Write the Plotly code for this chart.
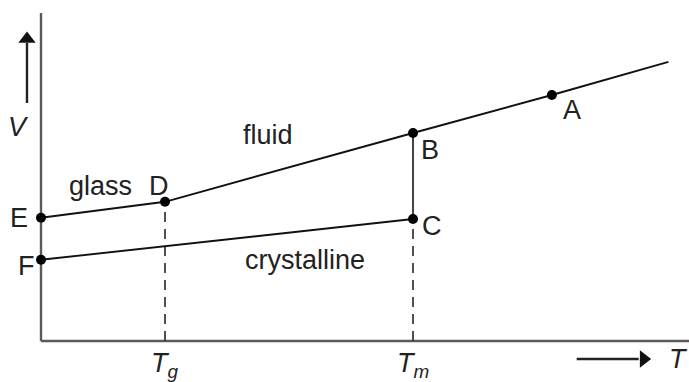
import plotly.graph_objects as go

# Temperature axis positions (arbitrary units) of the characteristic temperatures
T_g = 1.0
T_m = 3.0
T_A = 4.12
T_end = 5.06

# Specific volume (arbitrary units) at the labelled states
V_E = 3.08
V_D = 3.48
V_B = 5.2
V_C = 3.05
V_F = 2.03
V_A = 6.15
V_end = 6.98

point_names = ["A", "B", "C", "D", "E", "F"]
point_T = [T_A, T_m, T_m, T_g, 0.0, 0.0]
point_V = [V_A, V_B, V_C, V_D, V_E, V_F]

FONT = "Liberation Sans, Arial, sans-serif"
FS = 27
TXT = "#222222"
AXIS = "#5a5a5a"

fig = go.Figure()

# axes drawn as plain lines
fig.add_trace(go.Scatter(x=[0, 0], y=[0, 8.2], mode="lines",
                         line=dict(color=AXIS, width=2.4), hoverinfo="skip"))
fig.add_trace(go.Scatter(x=[0, 6], y=[0, 0], mode="lines",
                         line=dict(color=AXIS, width=2.4), hoverinfo="skip"))

# dashed guides from Tg and Tm down to the temperature axis
fig.add_trace(go.Scatter(x=[T_g, T_g], y=[0, V_D], mode="lines",
                         line=dict(color="#333333", width=1.7, dash="10px,7px"),
                         hoverinfo="skip"))
fig.add_trace(go.Scatter(x=[T_m, T_m], y=[0, V_C], mode="lines",
                         line=dict(color="#333333", width=1.7, dash="10px,7px"),
                         hoverinfo="skip"))

# glass branch E-D and fluid branch D-B-A
fig.add_trace(go.Scatter(x=[0, T_g, T_m, T_A, T_end],
                         y=[V_E, V_D, V_B, V_A, V_end], mode="lines",
                         line=dict(color="#111111", width=1.9), hoverinfo="skip"))
# crystallisation jump B-C
fig.add_trace(go.Scatter(x=[T_m, T_m], y=[V_B, V_C], mode="lines",
                         line=dict(color="#444444", width=2.0), hoverinfo="skip"))
# crystalline branch F-C
fig.add_trace(go.Scatter(x=[0, T_m], y=[V_F, V_C], mode="lines",
                         line=dict(color="#111111", width=1.9), hoverinfo="skip"))

# state points
fig.add_trace(go.Scatter(x=point_T, y=point_V, mode="markers",
                         marker=dict(color="black", size=10), hoverinfo="skip"))

# direction arrows beside the axis titles: shaft plus triangular head
fig.add_trace(go.Scatter(x=[-0.113, -0.113], y=[5.95, 7.45], mode="lines",
                         line=dict(color="#222222", width=2.4), hoverinfo="skip"))
fig.add_trace(go.Scatter(x=[-0.113], y=[7.55], mode="markers",
                         marker=dict(symbol="triangle-up", size=15, color="#111111",
                                     line=dict(width=0)),
                         hoverinfo="skip"))
fig.add_trace(go.Scatter(x=[4.32, 4.82], y=[-0.45, -0.45], mode="lines",
                         line=dict(color="#222222", width=2.4), hoverinfo="skip"))
fig.add_trace(go.Scatter(x=[4.86], y=[-0.45], mode="markers",
                         marker=dict(symbol="triangle-right", size=15, color="#111111",
                                     line=dict(width=0)),
                         hoverinfo="skip"))

annotations = []
shifts = {"A": (20, -15), "B": (17, -17), "C": (19, -7),
          "D": (-6, 16), "E": (-22, 0), "F": (-15, -6)}
for name, t, v in zip(point_names, point_T, point_V):
    dx, dy = shifts[name]
    annotations.append(dict(x=t, y=v, text=name, showarrow=False,
                            xshift=dx, yshift=dy,
                            font=dict(family=FONT, size=FS, color=TXT)))

for txt, t, v in [("glass", 0.476, 3.875), ("fluid", 1.83, 5.15),
                  ("crystalline", 2.13, 2.03)]:
    annotations.append(dict(x=t, y=v, text=txt, showarrow=False,
                            font=dict(family=FONT, size=FS, color=TXT)))

# temperature tick labels
for txt, t in [("<i>T</i><sub><i>g</i></sub>", T_g), ("<i>T</i><sub><i>m</i></sub>", T_m)]:
    annotations.append(dict(x=t, y=0, text=txt, showarrow=False, yshift=-24,
                            font=dict(family=FONT, size=FS, color=TXT)))

# axis titles
annotations.append(dict(x=-0.185, y=5.35, text="<i>V</i>", showarrow=False,
                        font=dict(family=FONT, size=FS, color=TXT)))
annotations.append(dict(x=5.14, y=-0.45, text="<i>T</i>", showarrow=False,
                        font=dict(family=FONT, size=FS, color=TXT)))

fig.update_layout(
    width=689, height=382,
    margin=dict(l=0, r=0, t=0, b=0),
    paper_bgcolor="white", plot_bgcolor="white",
    showlegend=False,
    xaxis=dict(range=[-41 / 124, 648 / 124], visible=False, fixedrange=True),
    yaxis=dict(range=[-41 / 40, 341 / 40], visible=False, fixedrange=True),
    annotations=annotations,
)

fig.write_html("out.html")
